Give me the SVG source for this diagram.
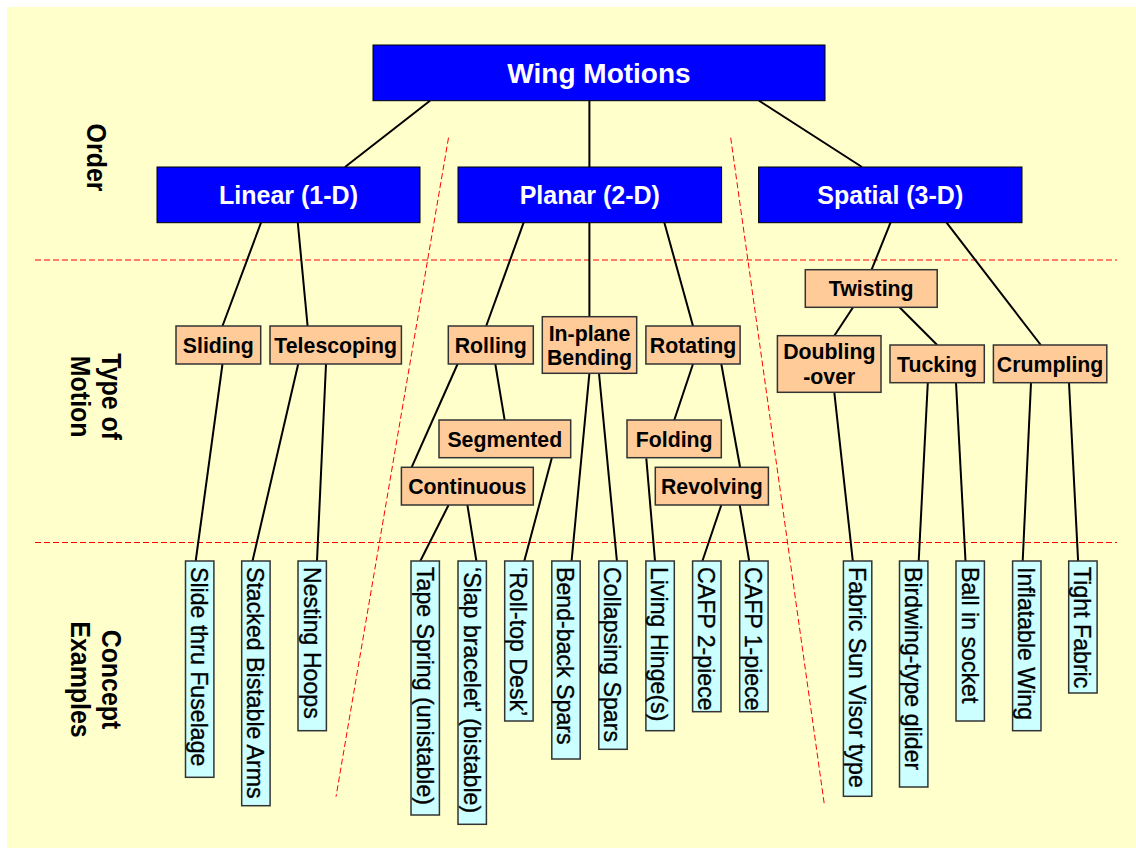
<svg xmlns="http://www.w3.org/2000/svg" width="1136" height="848" viewBox="0 0 1136 848">
<style>
.bg{fill:#FFFFCC}
.blue{fill:#0000FF;stroke:#000;stroke-width:1}
.or{fill:#FFCC99;stroke:#333;stroke-width:1.5}
.cy{fill:#CCFFFF;stroke:#333;stroke-width:1.5}
.wt{font-family:"Liberation Sans",Arial,sans-serif;font-weight:bold;fill:#fff;text-anchor:middle}
.ot{font-family:"Liberation Sans",Arial,sans-serif;font-weight:bold;font-size:21.3px;fill:#000;text-anchor:middle}
.ct{font-family:"Liberation Sans",Arial,sans-serif;font-size:24.5px;fill:#000;stroke:#000;stroke-width:0.35}
.lt{font-family:"Liberation Sans",Arial,sans-serif;font-weight:bold;font-size:27.4px;fill:#000;text-anchor:middle}
.dash{stroke:#FF0000;stroke-width:1;stroke-dasharray:6 3;fill:none}
.conn line{stroke:#000;stroke-width:2}
</style>
<rect class="bg" x="7" y="7" width="1129" height="841"/>

<g id="guides">
<line class="dash" x1="35" y1="260" x2="1117" y2="260"/>
<line class="dash" x1="35" y1="542.5" x2="1117" y2="542.5"/>
<line class="dash" x1="448.5" y1="137.7" x2="336" y2="796.7"/>
<line class="dash" x1="730.7" y1="137.7" x2="824.5" y2="805.7"/>
</g>

<g id="labels">
<g transform="translate(87,157.5) rotate(90) scale(0.91,1)"><text class="lt" x="0" y="0">Order</text></g>
<g transform="translate(101.8,396.7) rotate(90) scale(0.91,1)"><text class="lt" x="0" y="0">Type of</text><text class="lt" x="0" y="30.8">Motion</text></g>
<g transform="translate(101.8,679.5) rotate(90) scale(0.91,1)"><text class="lt" x="0" y="0">Concept</text><text class="lt" x="0" y="30.8">Examples</text></g>
</g>

<g id="connectors" class="conn">
<line x1="430" y1="100.7" x2="345" y2="167"/>
<line x1="589.4" y1="100.7" x2="589.4" y2="167"/>
<line x1="759" y1="100.7" x2="862" y2="167"/>
<line x1="261" y1="222.7" x2="222.5" y2="326"/>
<line x1="297.8" y1="222.7" x2="307.6" y2="326"/>
<line x1="222.5" y1="364" x2="195.7" y2="561"/>
<line x1="298.2" y1="364" x2="252.5" y2="561"/>
<line x1="326" y1="364" x2="317" y2="561"/>
<line x1="523.6" y1="222.7" x2="486.2" y2="326"/>
<line x1="589.4" y1="222.7" x2="589.4" y2="316.7"/>
<line x1="664.4" y1="222.7" x2="693" y2="326"/>
<line x1="457.6" y1="364" x2="411.6" y2="467.3"/>
<line x1="495.3" y1="364" x2="504.7" y2="420.3"/>
<line x1="448.6" y1="505" x2="420.3" y2="561"/>
<line x1="467.4" y1="505" x2="476.4" y2="561"/>
<line x1="551.8" y1="458" x2="524.3" y2="561"/>
<line x1="589.4" y1="373.3" x2="571.6" y2="561"/>
<line x1="599" y1="373.3" x2="616.9" y2="561"/>
<line x1="693" y1="364" x2="674.2" y2="420.3"/>
<line x1="721.3" y1="364" x2="740.1" y2="467.3"/>
<line x1="646.3" y1="458.3" x2="655" y2="561"/>
<line x1="721.3" y1="505" x2="702.4" y2="561"/>
<line x1="739.7" y1="505" x2="749.2" y2="561"/>
<line x1="890.5" y1="222.7" x2="871.6" y2="269.7"/>
<line x1="946.6" y1="222.7" x2="1040.8" y2="345"/>
<line x1="853.1" y1="307.3" x2="834.3" y2="335.7"/>
<line x1="899.5" y1="307.3" x2="937.2" y2="345"/>
<line x1="834.3" y1="392.3" x2="852.8" y2="561"/>
<line x1="927.8" y1="382.7" x2="918.7" y2="561"/>
<line x1="956" y1="382.7" x2="965.5" y2="561"/>
<line x1="1031" y1="382.7" x2="1022.7" y2="561"/>
<line x1="1069" y1="382.7" x2="1078.1" y2="561"/>
</g>

<g id="wing-motions"><rect class="blue" x="373" y="45" width="452" height="55.7"/><text class="wt" x="599" y="83" font-size="28">Wing Motions</text></g>
<g id="linear"><rect class="blue" x="157" y="167" width="263" height="55.7"/><text class="wt" x="288.5" y="204" font-size="25">Linear (1-D)</text></g>
<g id="planar"><rect class="blue" x="458" y="167" width="263.6" height="55.7"/><text class="wt" x="589.8" y="204" font-size="25">Planar (2-D)</text></g>
<g id="spatial"><rect class="blue" x="758.6" y="167" width="263.4" height="55.7"/><text class="wt" x="890.3" y="204" font-size="25">Spatial (3-D)</text></g>

<g id="sliding"><rect class="or" x="176" y="326" width="84.7" height="38"/><text class="ot" x="218.3" y="352.6">Sliding</text></g>
<g id="telescoping"><rect class="or" x="270" y="326" width="131.4" height="38"/><text class="ot" x="335.7" y="352.6">Telescoping</text></g>
<g id="rolling"><rect class="or" x="448.3" y="326" width="85" height="38"/><text class="ot" x="490.8" y="352.6">Rolling</text></g>
<g id="in-plane-bending"><rect class="or" x="542.3" y="316.7" width="94.4" height="56.6"/><text class="ot" x="589.5" y="340.5">In-plane</text><text class="ot" x="589.5" y="365">Bending</text></g>
<g id="rotating"><rect class="or" x="645.9" y="326" width="94.2" height="38"/><text class="ot" x="693" y="352.6">Rotating</text></g>
<g id="segmented"><rect class="or" x="439" y="420" width="131.7" height="37.7"/><text class="ot" x="504.8" y="446.5">Segmented</text></g>
<g id="continuous"><rect class="or" x="401.4" y="467.3" width="131.9" height="37.7"/><text class="ot" x="467.3" y="493.8">Continuous</text></g>
<g id="folding"><rect class="or" x="627" y="420" width="94.3" height="37.7"/><text class="ot" x="674.2" y="446.5">Folding</text></g>
<g id="revolving"><rect class="or" x="655.3" y="467.3" width="113.1" height="37.7"/><text class="ot" x="711.8" y="493.8">Revolving</text></g>
<g id="twisting"><rect class="or" x="805.3" y="269.7" width="131.9" height="37.6"/><text class="ot" x="871.2" y="296.1">Twisting</text></g>
<g id="doubling-over"><rect class="or" x="777.4" y="335.7" width="103.6" height="56.6"/><text class="ot" x="829.3" y="358.7">Doubling</text><text class="ot" x="829.3" y="384">-over</text></g>
<g id="tucking"><rect class="or" x="890" y="345" width="94.3" height="37.7"/><text class="ot" x="937.1" y="371.5">Tucking</text></g>
<g id="crumpling"><rect class="or" x="993.4" y="345" width="113.4" height="37.7"/><text class="ot" x="1050.1" y="371.5">Crumpling</text></g>

<g id="ex-slide"><rect class="cy" x="185.5" y="561" width="28.4" height="216.3"/><text class="ct" transform="translate(191,567) rotate(90) scale(0.945,1)">Slide thru Fuselage</text></g>
<g id="ex-stacked"><rect class="cy" x="241.7" y="561" width="28.4" height="244.7"/><text class="ct" transform="translate(247.2,567) rotate(90) scale(0.945,1)">Stacked Bistable Arms</text></g>
<g id="ex-nesting"><rect class="cy" x="298" y="561" width="28.4" height="169.7"/><text class="ct" transform="translate(303.5,567) rotate(90) scale(0.945,1)">Nesting Hoops</text></g>
<g id="ex-tape"><rect class="cy" x="411" y="561" width="28.4" height="254"/><text class="ct" transform="translate(416.5,567) rotate(90) scale(0.945,1)">Tape Spring (unistable)</text></g>
<g id="ex-slap"><rect class="cy" x="458" y="561" width="28.4" height="263.3"/><text class="ct" transform="translate(463.5,567) rotate(90) scale(0.945,1)">‘Slap bracelet’ (bistable)</text></g>
<g id="ex-rolltop"><rect class="cy" x="504.7" y="561" width="28.4" height="160"/><text class="ct" transform="translate(510.2,567) rotate(90) scale(0.945,1)">‘Roll-top Desk’</text></g>
<g id="ex-bendback"><rect class="cy" x="551.8" y="561" width="28.4" height="198"/><text class="ct" transform="translate(557.3,567) rotate(90) scale(0.945,1)">Bend-back Spars</text></g>
<g id="ex-collapsing"><rect class="cy" x="598.8" y="561" width="28.4" height="188.3"/><text class="ct" transform="translate(604.3,567) rotate(90) scale(0.945,1)">Collapsing Spars</text></g>
<g id="ex-living"><rect class="cy" x="645.9" y="561" width="28.4" height="169.7"/><text class="ct" transform="translate(651.4,567) rotate(90) scale(0.945,1)">Living Hinge(s)</text></g>
<g id="ex-cafp2"><rect class="cy" x="692.6" y="561" width="28.4" height="150.7"/><text class="ct" transform="translate(698.1,567) rotate(90) scale(0.945,1)">CAFP 2-piece</text></g>
<g id="ex-cafp1"><rect class="cy" x="739.7" y="561" width="28.4" height="150.7"/><text class="ct" transform="translate(745.2,567) rotate(90) scale(0.945,1)">CAFP 1-piece</text></g>
<g id="ex-sunvisor"><rect class="cy" x="843.4" y="561" width="28.4" height="235.3"/><text class="ct" transform="translate(848.9,567) rotate(90) scale(0.945,1)">Fabric Sun Visor type</text></g>
<g id="ex-birdwing"><rect class="cy" x="899.5" y="561" width="28.4" height="226"/><text class="ct" transform="translate(905,567) rotate(90) scale(0.945,1)">Birdwing-type glider</text></g>
<g id="ex-ball"><rect class="cy" x="956" y="561" width="28.4" height="160"/><text class="ct" transform="translate(961.5,567) rotate(90) scale(0.945,1)">Ball in socket</text></g>
<g id="ex-inflatable"><rect class="cy" x="1012.6" y="561" width="28.4" height="169.7"/><text class="ct" transform="translate(1018.1,567) rotate(90) scale(0.945,1)">Inflatable Wing</text></g>
<g id="ex-tight"><rect class="cy" x="1068.7" y="561" width="28.4" height="132"/><text class="ct" transform="translate(1074.2,567) rotate(90) scale(0.945,1)">Tight Fabric</text></g>
</svg>
